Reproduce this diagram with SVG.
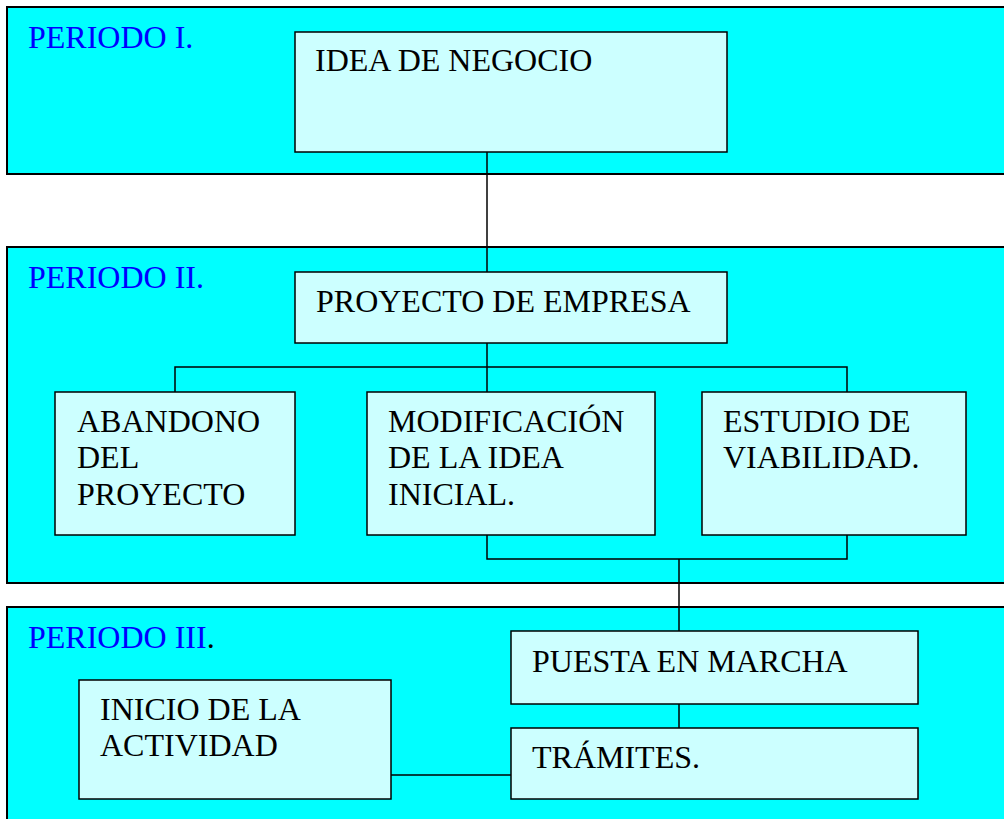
<svg xmlns="http://www.w3.org/2000/svg" width="1004" height="819" viewBox="0 0 1004 819">
<style>
.panel{fill:#00FFFF;stroke:#000;stroke-width:2}
.box{fill:#CCFFFF;stroke:#000;stroke-width:1.5}
.con{fill:none;stroke:#000;stroke-width:1.5}
.lbl{font-family:"Liberation Serif",serif;font-size:32px;fill:#0000FF}
.txt{font-family:"Liberation Serif",serif;font-size:32px;fill:#000}
</style>
<rect width="1004" height="819" fill="#fff"/>
<g id="periodo1">
<rect class="panel" x="7" y="7" width="1010" height="167"/>
<text class="lbl" x="28" y="48" style="font-family:'Liberation Serif',serif">PERIODO I.</text>
</g>
<g id="periodo2">
<rect class="panel" x="7" y="247" width="1010" height="336"/>
<text class="lbl" x="28" y="288" style="font-family:'Liberation Serif',serif">PERIODO II.</text>
</g>
<g id="periodo3">
<rect class="panel" x="7" y="607" width="1010" height="230"/>
<text class="lbl" x="28" y="648" style="font-family:'Liberation Serif',serif">PERIODO III<tspan fill="#000">.</tspan></text>
</g>
<g id="connectors">
<path class="con" d="M487,152 V272"/>
<path class="con" d="M487,343 V392"/>
<path class="con" d="M175,392 V367 H847 V392"/>
<path class="con" d="M487,535 V559 H847 V535"/>
<path class="con" d="M679,559 V631"/>
<path class="con" d="M679,704 V728"/>
<path class="con" d="M391,775 H511"/>
</g>
<g id="idea">
<rect class="box" x="295" y="32" width="432" height="120"/>
<text class="txt" x="315" y="71" style="font-family:'Liberation Serif',serif">IDEA DE NEGOCIO</text>
</g>
<g id="proyecto">
<rect class="box" x="295" y="272" width="432" height="71"/>
<text class="txt" x="316" y="312" style="font-family:'Liberation Serif',serif">PROYECTO DE EMPRESA</text>
</g>
<g id="abandono">
<rect class="box" x="55" y="392" width="240" height="143"/>
<text class="txt" x="77" y="432" style="font-family:'Liberation Serif',serif">ABANDONO</text>
<text class="txt" x="77" y="468" style="font-family:'Liberation Serif',serif">DEL</text>
<text class="txt" x="77" y="505" style="font-family:'Liberation Serif',serif">PROYECTO</text>
</g>
<g id="modificacion">
<rect class="box" x="367" y="392" width="288" height="143"/>
<text class="txt" x="388" y="432" style="font-family:'Liberation Serif',serif">MODIFICACIÓN</text>
<text class="txt" x="388" y="468" style="font-family:'Liberation Serif',serif">DE LA IDEA</text>
<text class="txt" x="388" y="505" style="font-family:'Liberation Serif',serif">INICIAL.</text>
</g>
<g id="estudio">
<rect class="box" x="702" y="392" width="264" height="143"/>
<text class="txt" x="723" y="432" style="font-family:'Liberation Serif',serif">ESTUDIO DE</text>
<text class="txt" x="723" y="468" style="font-family:'Liberation Serif',serif">VIABILIDAD.</text>
</g>
<g id="puesta">
<rect class="box" x="511" y="631" width="407" height="73"/>
<text class="txt" x="532" y="672" style="font-family:'Liberation Serif',serif">PUESTA EN MARCHA</text>
</g>
<g id="tramites">
<rect class="box" x="511" y="728" width="407" height="71"/>
<text class="txt" x="532" y="768" style="font-family:'Liberation Serif',serif">TRÁMITES.</text>
</g>
<g id="inicio">
<rect class="box" x="79" y="680" width="312" height="119"/>
<text class="txt" x="100" y="720" style="font-family:'Liberation Serif',serif">INICIO DE LA</text>
<text class="txt" x="100" y="756" style="font-family:'Liberation Serif',serif">ACTIVIDAD</text>
</g>
</svg>
